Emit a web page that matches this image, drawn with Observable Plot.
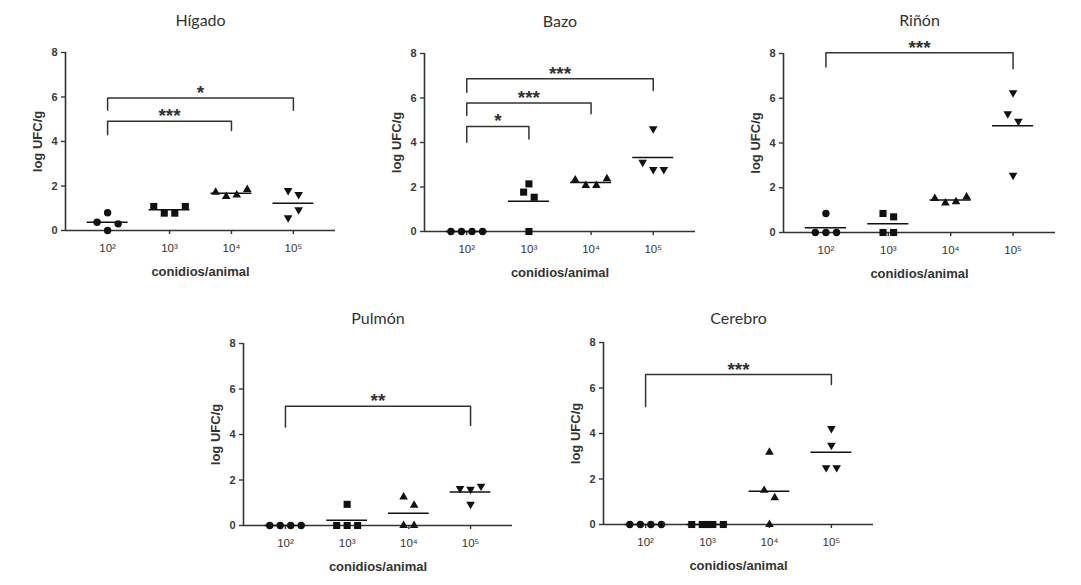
<!DOCTYPE html>
<html><head><meta charset="utf-8">
<script src="https://cdn.jsdelivr.net/npm/d3@7"></script>
<script src="https://cdn.jsdelivr.net/npm/@observablehq/plot@0.6"></script>
<style>
body{margin:0;background:#fff;}
#root{position:relative;width:1081px;height:585px;overflow:hidden;background:#fff;}
#root svg{position:absolute;}
</style></head><body><div id="root"></div>
<script>
// ---- data ----
const categories = ["10²", "10³", "10⁴", "10⁵"];
const yTicks = [0, 2, 4, 6, 8];
const yLabel = "log UFC/g";
const xLabel = "conidios/animal";

const higadoValues = [[0.37, 0.80, 0, 0.30], [1.08, 0.78, 0.78, 1.08], [1.72, 1.53, 1.60, 1.84], [1.80, 1.62, 0.57, 0.93]];
const higadoSlots  = [[-1, 0, 0, 1], [-1.5, -0.5, 0.5, 1.5], [-1.5, -0.5, 0.5, 1.5], [-0.5, 0.5, -0.5, 0.5]];
const higadoBrackets = [
  {from: 0, to: 3, y: 5.96, leftEnd: 5.4, rightEnd: 5.4, label: "*"},
  {from: 0, to: 2, y: 4.91, leftEnd: 4.3, rightEnd: 4.5, label: "***"}
];

const bazoValues = [[0, 0, 0, 0], [2.14, 1.77, 1.54, 0], [2.32, 2.07, 2.07, 2.37], [3.11, 2.79, 2.79, 4.62]];
const bazoSlots  = [[-1.5, -0.5, 0.5, 1.5], [0, -0.5, 0.5, 0], [-1.5, -0.5, 0.5, 1.5], [-1, 0, 1, 0]];
const bazoBrackets = [
  {from: 0, to: 3, y: 6.86, leftEnd: 6.26, rightEnd: 6.34, label: "***"},
  {from: 0, to: 2, y: 5.77, leftEnd: 5.21, rightEnd: 5.29, label: "***"},
  {from: 0, to: 1, y: 4.72, leftEnd: 4.01, rightEnd: 4.16, label: "*"}
];

const rinonValues = [[0.85, 0, 0, 0], [0.85, 0.70, 0, 0], [1.52, 1.32, 1.37, 1.59], [6.25, 5.31, 4.97, 2.56]];
const rinonSlots  = [[0, -1, 0, 1], [-0.5, 0.5, -0.5, 0.5], [-1.5, -0.5, 0.5, 1.5], [0, -0.5, 0.5, 0]];
const rinonBrackets = [
  {from: 0, to: 3, y: 8.03, leftEnd: 7.4, rightEnd: 7.32, label: "***"}
];

const pulmonValues = [[0, 0, 0, 0], [0.93, 0, 0, 0], [1.25, 0.89, 0, 0], [1.63, 1.59, 1.73, 0.93]];
const pulmonSlots  = [[-1.5, -0.5, 0.5, 1.5], [0, -1, 0, 1], [-0.5, 0.5, -0.5, 0.5], [-1, 0, 1, 0]];
const pulmonBrackets = [
  {from: 0, to: 3, y: 5.24, leftEnd: 4.33, rightEnd: 4.4, label: "**"}
];

const cerebroValues = [[0, 0, 0, 0], [0, 0, 0, 0, 0], [3.18, 1.50, 1.18, 0], [4.22, 3.48, 2.50, 2.50]];
const cerebroSlots  = [[-1.5, -0.5, 0.5, 1.5], [-1.5, -0.5, 0, 0.5, 1.5], [0, -0.5, 0.5, 0], [0, 0, -0.5, 0.5]];
const cerebroBrackets = [
  {from: 0, to: 3, y: 6.59, leftEnd: 5.19, rightEnd: 6.15, label: "***"}
];

// ---- drawing ----
const triangleDown = {
  draw(context, size) {
    const y = -Math.sqrt(size / (Math.sqrt(3) * 3));
    context.moveTo(0, -y * 2);
    context.lineTo(-Math.sqrt(3) * y, y);
    context.lineTo(Math.sqrt(3) * y, y);
    context.closePath();
  }
};
const symbols = ["circle", "square", "triangle", triangleDown];
const radii = [3.7, 4.0, 3.2, 3.2];
const SLOT = 0.17;
const HALF = 0.33;
const axisColor = "#333";
const font = "'Liberation Sans', Arial, sans-serif";

function panel(cfg) {
  const {title, values, slots, brackets, axisX, axisEnd, y8, y0, titleY} = cfg;
  const mL = 60, mR = 8, mB = 52;
  const svgTop = titleY - 14;
  const mT = y8 - svgTop;
  const width = mL + (axisEnd - axisX) + mR;
  const height = mT + (y0 - y8) + mB;
  const xDom = [-0.68, 3.68];

  const pts = [];
  values.forEach((vals, c) => vals.forEach((v, i) => pts.push({c, v, x: c + slots[c][i] * SLOT})));
  const means = values.map((vals, c) => ({c, m: d3.mean(vals)}));
  const bracketPaths = [];
  brackets.forEach((b, k) => {
    bracketPaths.push({k, x: b.from, y: b.leftEnd});
    bracketPaths.push({k, x: b.from, y: b.y});
    bracketPaths.push({k, x: b.to, y: b.y});
    bracketPaths.push({k, x: b.to, y: b.rightEnd});
  });

  const marks = [
    Plot.ruleY([0], {stroke: axisColor, strokeWidth: 1.6}),
    Plot.ruleX([xDom[0]], {y1: 0, y2: 8, stroke: axisColor, strokeWidth: 1.6}),
    Plot.axisY({ticks: yTicks, tickSize: 4, tickPadding: 4, label: null, fontSize: 11, fontWeight: "bold", color: "#3a3a3a", strokeWidth: 1.4}),
    Plot.axisX({ticks: [0, 1, 2, 3], tickFormat: i => categories[i], tickSize: 4, tickPadding: 9, label: null, fontSize: 11.5, color: "#333", strokeWidth: 1.4}),
    ...symbols.map((s, c) => Plot.dot(pts.filter(d => d.c === c), {x: "x", y: "v", symbol: s, r: radii[c], fill: "#111", stroke: "none"})),
    Plot.ruleY(means, {y: "m", x1: d => d.c - HALF, x2: d => d.c + HALF, stroke: "#111", strokeWidth: 1.5}),
    Plot.line(bracketPaths, {x: "x", y: "y", z: "k", stroke: axisColor, strokeWidth: 1.5, curve: "linear"}),
    Plot.text(brackets, {x: d => (d.from + d.to) / 2, y: "y", text: "label", lineAnchor: "bottom", dy: 1, fontSize: 19, fontWeight: "bold", fill: "#333"}),
    Plot.text([title], {frameAnchor: "top", lineAnchor: "middle", dy: titleY - y8, fontSize: 16, fill: "#333", fontFamily: "Lato, 'Open Sans', sans-serif"}),
    Plot.text([yLabel], {frameAnchor: "left", textAnchor: "middle", lineAnchor: "middle", rotate: -90, dx: -28, fontSize: 13, fontWeight: "bold", fill: "#333"}),
    Plot.text([xLabel], {frameAnchor: "bottom", lineAnchor: "middle", dy: 41, fontSize: 13, fontWeight: "bold", fill: "#333"})
  ];

  const svg = Plot.plot({
    width, height,
    marginLeft: mL, marginRight: mR, marginTop: mT, marginBottom: mB,
    x: {type: "linear", domain: xDom},
    y: {domain: [0, 8]},
    style: {fontFamily: font, background: "transparent", overflow: "visible", color: "#333"},
    marks
  });
  svg.style.left = (axisX - mL) + "px";
  svg.style.top = svgTop + "px";
  document.getElementById("root").appendChild(svg);
}

panel({title: "Hígado", values: higadoValues, slots: higadoSlots, brackets: higadoBrackets, axisX: 65, axisEnd: 335, y8: 52, y0: 230, titleY: 20});
panel({title: "Bazo", values: bazoValues, slots: bazoSlots, brackets: bazoBrackets, axisX: 424, axisEnd: 695, y8: 53, y0: 231, titleY: 21});
panel({title: "Riñón", values: rinonValues, slots: rinonSlots, brackets: rinonBrackets, axisX: 783, axisEnd: 1055, y8: 53, y0: 232, titleY: 20});
panel({title: "Pulmón", values: pulmonValues, slots: pulmonSlots, brackets: pulmonBrackets, axisX: 243, axisEnd: 512, y8: 343, y0: 525, titleY: 318});
panel({title: "Cerebro", values: cerebroValues, slots: cerebroSlots, brackets: cerebroBrackets, axisX: 603, axisEnd: 873, y8: 342, y0: 524, titleY: 318});
</script>
</body></html>
